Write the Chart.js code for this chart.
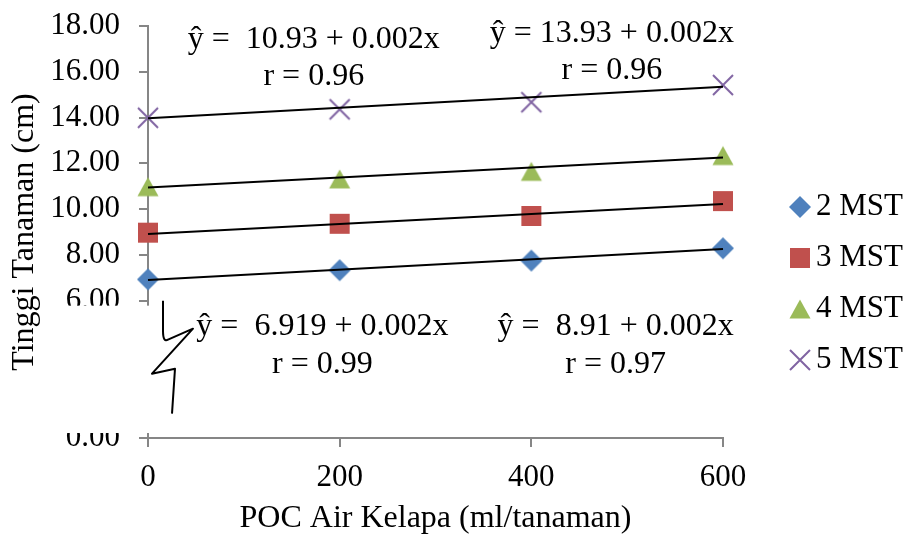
<!DOCTYPE html>
<html lang="id">
<head>
    <meta charset="UTF-8">
    <title>Tinggi Tanaman</title>
    <script src="https://cdn.jsdelivr.net/npm/chart.js"></script>
    <style>
        html, body { margin: 0; padding: 0; background: #fff; }
    </style>
</head>
<body>
    <canvas id="tinggiChart" width="907" height="539"></canvas>

    <script>
// Dosis POC air kelapa (ml/tanaman)
var dosis = [0, 200, 400, 600];
var namaSeri = ["2 MST", "3 MST", "4 MST", "5 MST"];

// Tinggi tanaman (cm) per umur
var mst2 = [6.93, 7.33, 7.75, 8.29];
var mst3 = [8.97, 9.36, 9.70, 10.35];
var mst4 = [10.98, 11.32, 11.65, 12.34];
var mst5 = [13.99, 14.36, 14.67, 15.42];

// Garis regresi: nilai pada ujung x = 0 dan x = 600
var trenX = [0, 600];
var tren2 = [6.90, 8.26];
var tren3 = [8.91, 10.22];
var tren4 = [10.94, 12.26];
var tren5 = [13.97, 15.35];

// Label persamaan
var persamaan = ["ŷ =  6.919 + 0.002x", "ŷ =  8.91 + 0.002x", "ŷ =  10.93 + 0.002x", "ŷ = 13.93 + 0.002x"];
var nilaiR = ["r = 0.99", "r = 0.97", "r = 0.96", "r = 0.96"];

// Tick sumbu (sumbu y terpotong antara 0 dan 6)
var yTicks = [0, 6, 8, 10, 12, 14, 16, 18];
var xTicks = [0, 200, 400, 600];

// posisi label persamaan (dalam satuan sumbu)
var labelX = [182, 488, 173, 484];
var labelEqY = [4.85, 4.85, 17.41, 17.69];
var labelRY = [3.19, 3.19, 15.79, 16.03];

var warna = ["#4F81BD", "#C0504D", "#9BBB59", "#8064A2"];
var bentuk = ["diamond", "square", "triangle", "cross"];
var huruf = '"Liberation Serif", "Times New Roman", serif';

// gambar marker ala Excel
function buatMarker(jenis, w) {
    var c = document.createElement("canvas");
    c.width = 30; c.height = 30;
    var g = c.getContext("2d");
    g.fillStyle = w; g.strokeStyle = w;
    g.beginPath();
    if (jenis === "diamond") {
        g.moveTo(15, 4); g.lineTo(26, 15); g.lineTo(15, 26); g.lineTo(4, 15); g.closePath(); g.fill();
    } else if (jenis === "square") {
        g.fillRect(5, 5, 20, 20);
    } else if (jenis === "triangle") {
        g.moveTo(15, 5.5); g.lineTo(25.5, 24.5); g.lineTo(4.5, 24.5); g.closePath(); g.fill();
    } else {
        g.lineWidth = 2;
        g.moveTo(5, 5); g.lineTo(25, 25); g.moveTo(25, 5); g.lineTo(5, 25); g.stroke();
    }
    return c;
}
var marker = bentuk.map(function (b, i) { return buatMarker(b, warna[i]); });

var nilai = [mst2, mst3, mst4, mst5];
var tren = [tren2, tren3, tren4, tren5];
var datasets = [];
nilai.forEach(function (arr, i) {
    datasets.push({
        label: namaSeri[i],
        data: dosis.map(function (x, j) { return { x: x, y: arr[j] }; }),
        pointStyle: marker[i],
        pointRadius: 10,
        pointHoverRadius: 10,
        showLine: false,
        clip: false,
        order: 2
    });
});
tren.forEach(function (arr, i) {
    datasets.push({
        label: "Tren " + namaSeri[i],
        data: trenX.map(function (x, j) { return { x: x, y: arr[j] }; }),
        showLine: true,
        borderColor: "#000",
        borderWidth: 2,
        pointRadius: 0,
        pointHoverRadius: 0,
        clip: false,
        order: 1
    });
});

// potongan sumbu, label persamaan dan legenda
var hiasan = {
    id: "hiasan",
    afterDraw: function (chart) {
        var ctx = chart.ctx, sx = chart.scales.x, sy = chart.scales.y;
        var x0 = sx.getPixelForValue(0);
        var y6 = sy.getPixelForValue(6);
        var yNol = sy.getPixelForValue(0);
        ctx.save();

        // tutup bagian sumbu y antara 0 dan 6
        ctx.fillStyle = "#fff";
        ctx.fillRect(44, y6 + 5, x0 + 2 - 44, (yNol - 5) - (y6 + 5));

        // tanda patah
        ctx.strokeStyle = "#000";
        ctx.lineWidth = 2;
        ctx.lineJoin = "round";
        ctx.beginPath();
        ctx.moveTo(x0 + 15, y6);
        ctx.lineTo(x0 + 15, y6 + 30);
        ctx.quadraticCurveTo(x0 + 15, y6 + 42, x0 + 20, y6 + 39);
        ctx.lineTo(x0 + 45, y6 + 28);
        ctx.lineTo(x0 + 4, y6 + 73);
        ctx.lineTo(x0 + 27, y6 + 68);
        ctx.lineTo(x0 + 24, y6 + 113);
        ctx.stroke();

        // persamaan regresi
        ctx.fillStyle = "#000";
        ctx.font = "32px " + huruf;
        ctx.textAlign = "center";
        ctx.textBaseline = "middle";
        persamaan.forEach(function (t, i) {
            var px = sx.getPixelForValue(labelX[i]);
            ctx.fillText(t, px, sy.getPixelForValue(labelEqY[i]));
            ctx.fillText(nilaiR[i], px, sy.getPixelForValue(labelRY[i]));
        });

        // legenda
        var kanan = chart.chartArea.right;
        ctx.font = "31px " + huruf;
        ctx.textAlign = "left";
        namaSeri.forEach(function (n, i) {
            var ly = 207 + i * 51;
            ctx.drawImage(marker[i], kanan + 77 - 15, ly - 15);
            ctx.fillText(n, kanan + 93, ly);
        });
        ctx.restore();
    }
};

var abu = "#868686";
var ctxTinggi = document.getElementById("tinggiChart").getContext("2d");
var tinggiChart = new Chart(ctxTinggi, {
    type: "scatter",
    data: { datasets: datasets },
    options: {
        responsive: false,
        animation: false,
        layout: { padding: { top: 26, right: 184, bottom: 0, left: 0 } },
        plugins: {
            legend: { display: false },
            tooltip: { enabled: false }
        },
        scales: {
            x: {
                type: "linear",
                min: 0,
                max: 600,
                afterFit: function (s) { s.height = 101; },
                afterBuildTicks: function (s) { s.ticks = xTicks.map(function (v) { return { value: v }; }); },
                ticks: {
                    color: "#000",
                    font: { family: huruf, size: 31 },
                    padding: 12,
                    maxRotation: 0,
                    callback: function (v) { return String(v); }
                },
                grid: { drawOnChartArea: false, drawTicks: true, tickLength: 9, color: abu, lineWidth: 2 },
                border: { color: abu, width: 2 },
                title: {
                    display: true,
                    text: "POC Air Kelapa (ml/tanaman)",
                    color: "#000",
                    font: { family: huruf, size: 32 },
                    padding: { top: 0, bottom: 1 }
                }
            },
            y: {
                min: 0,
                max: 18,
                afterFit: function (s) {
                    s.width = 148;
                    s.paddingTop = 0;
                    s.paddingBottom = 0;
                },
                afterBuildTicks: function (s) { s.ticks = yTicks.map(function (v) { return { value: v }; }); },
                ticks: {
                    color: "#000",
                    font: { family: huruf, size: 31 },
                    padding: 19,
                    callback: function (v) { return Number(v).toFixed(2); }
                },
                grid: { drawOnChartArea: false, drawTicks: true, tickLength: 9, color: abu, lineWidth: 2 },
                border: { color: abu, width: 2 },
                title: {
                    display: true,
                    text: "Tinggi Tanaman (cm)",
                    color: "#000",
                    font: { family: huruf, size: 32 },
                    padding: { top: 5, bottom: 0 }
                }
            }
        }
    },
    plugins: [hiasan]
});
    </script>
</body>
</html>
